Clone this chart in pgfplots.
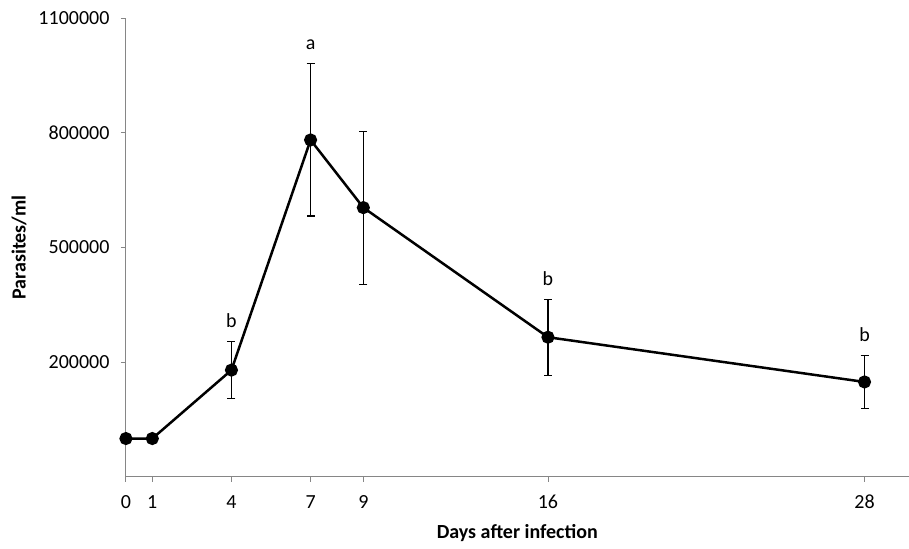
\documentclass[border=0pt]{standalone}
\usepackage{fontspec}
\setmainfont{Carlito}
\usepackage{pgfplots}
\pgfplotsset{compat=1.18}

\definecolor{axisgray}{RGB}{134,134,134}

\begin{document}
\begin{tikzpicture}
	\begin{axis}[
			name=ax,
			scale only axis,
			width=783pt, height=459pt,
			xmin=0, xmax=29.67,
			ymin=-100000, ymax=1100000,
			xtick={0,1,4,7,9,16,28},
			xticklabels={0,1,4,7,9,16,28},
			ytick={200000,500000,800000,1100000},
			yticklabels={200000,500000,800000,1100000},
			scaled y ticks=false,
			axis lines=left,
			axis line style={axisgray, line width=0.9pt, -},
			tick style={axisgray, line width=0.9pt},
			tick align=outside,
			major tick length=5pt,
			ticklabel style={font=\fontsize{20}{24}\selectfont, black},
			xticklabel style={yshift=-10pt},
			yticklabel style={xshift=-8pt},
			xlabel={\textbf{Days after infection}},
			ylabel={\textbf{Parasites/ml}},
			label style={font=\fontsize{20}{24}\selectfont},
			xlabel style={yshift=-8pt},
			ylabel style={yshift=5pt},
			clip=false,
		]

		\addplot[
			black, line width=2.5pt,
			mark=*, mark size=5.3pt,
			error bars/.cd,
			y dir=both, y explicit,
			error bar style={line width=1.1pt, black},
			error mark options={rotate=90, mark size=4pt, line width=1.1pt, black},
		]
		coordinates {
				(0,0) +- (0,0)
				(1,0) +- (0,0)
				(4,179000) +- (0,75000)
				(7,781000) +- (0,199000)
				(9,604000) +- (0,200000)
				(16,265000) +- (0,99000)
				(28,148000) +- (0,69500)
			};

		\node[font=\fontsize{20}{24}\selectfont, anchor=south] at (axis cs:4,254000) [yshift=10pt] {b};
		\node[font=\fontsize{20}{24}\selectfont, anchor=south] at (axis cs:7,980000) [yshift=11pt] {a};
		\node[font=\fontsize{20}{24}\selectfont, anchor=south] at (axis cs:16,364000) [yshift=10pt] {b};
		\node[font=\fontsize{20}{24}\selectfont, anchor=south] at (axis cs:28,217500) [yshift=10pt] {b};
	\end{axis}
	\path[use as bounding box] ([shift={(-126pt,-72pt)}]ax.south west) rectangle ([shift={(0pt,18pt)}]ax.north east);
\end{tikzpicture}
\end{document}
